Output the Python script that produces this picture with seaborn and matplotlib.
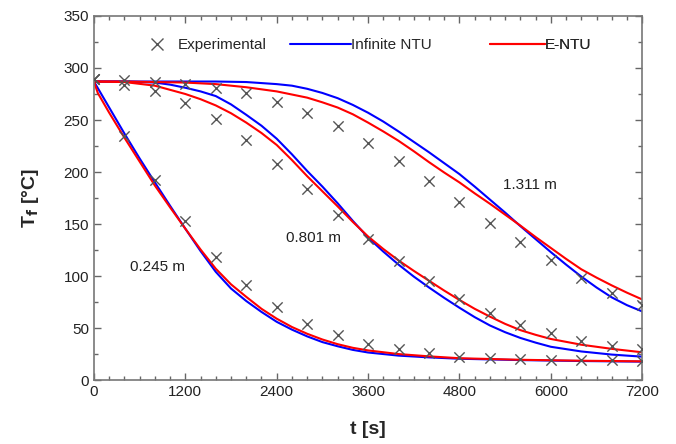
import pandas as pd
import numpy as np
import matplotlib
matplotlib.use('Agg')
import matplotlib.pyplot as plt
import seaborn as sns
from matplotlib.lines import Line2D
from matplotlib.ticker import MultipleLocator

# values
t_exp = [0, 400, 800, 1200, 1600, 2000, 2400, 2800, 3200, 3600,
         4000, 4400, 4800, 5200, 5600, 6000, 6400, 6800, 7200]
exp_0245 = [289, 235, 192, 153, 118, 91, 70, 54, 43, 35,
            30, 26, 22.5, 21, 20.5, 19.5, 19, 19, 18.5]
exp_0801 = [289, 284, 278, 266, 251, 231, 208, 184, 159, 136,
            114, 95, 78, 64, 53, 45, 38, 33, 30]
exp_1311 = [289, 288, 287, 285, 281, 276, 267, 257, 244, 228,
            211, 191, 171, 151, 133, 115, 98, 84, 72]

# Infinite NTU model
t_inf_0245 = [0, 200, 400, 600, 800, 1000, 1200, 1400, 1600, 1800, 2000, 2200,
              2400, 2600, 2800, 3000, 3200, 3400, 3600, 4000, 4400, 4800,
              5600, 6400, 7200]
inf_0245 = [287, 262, 237, 213, 190, 167.5, 145.5, 124, 104, 88, 76, 65.5,
            56, 48.5, 42, 36.5, 32.5, 29, 26.5, 23.5, 21.8, 20.5,
            19.2, 18.3, 17.7]
t_inf_0801 = [0, 400, 800, 1000, 1200, 1400, 1600, 1800, 2000, 2200, 2400,
              2600, 2800, 3000, 3200, 3400, 3600, 3800, 4000, 4200, 4400,
              4600, 4800, 5000, 5200, 5400, 5600, 5800, 6000, 6400, 6800, 7200]
inf_0801 = [287, 287, 286, 284, 281, 277.5, 273, 265, 255, 244.5, 232,
            217, 201, 186, 170, 153, 137, 123.5, 111, 99.5, 89,
            79, 69.5, 60.5, 52.5, 46, 40.5, 36, 32, 27.5, 24.5, 22.5]
t_inf_1311 = [0, 800, 1600, 2000, 2400, 2600, 2800, 3000, 3200, 3400, 3600,
              3800, 4000, 4200, 4400, 4600, 4800, 5000, 5200, 5400, 5600,
              5800, 6000, 6200, 6400, 6600, 6800, 7000, 7200]
inf_1311 = [287, 287, 287, 286.5, 284.5, 283, 280, 276, 271, 264.5, 257,
            248.5, 239, 229, 219, 208.5, 198, 186, 173.5, 161, 148,
            135.5, 123, 111, 99.5, 89, 79.5, 72, 66]

# E-NTU model
t_entu_0245 = [0, 50, 200, 400, 600, 800, 1000, 1200, 1400, 1600, 1800, 2000,
               2200, 2400, 2600, 2800, 3000, 3200, 3400, 3600, 4000, 4400,
               4800, 5600, 6400, 7200]
entu_0245 = [287, 276, 257, 233, 210, 187, 166, 145.5, 125.5, 107, 92, 80,
             68.5, 59, 51, 44.5, 39, 34.5, 31, 28.5, 25, 22.8,
             21, 19.5, 18.6, 18]
t_entu_0801 = [0, 400, 800, 1200, 1400, 1600, 1800, 2000, 2200, 2400, 2600,
               2800, 3000, 3200, 3400, 3600, 3800, 4000, 4200, 4400, 4600,
               4800, 5000, 5200, 5400, 5600, 5800, 6000, 6400, 6800, 7200]
entu_0801 = [287, 286.5, 283, 275, 270, 264, 256.5, 247.5, 237.5, 226, 211.5,
             196, 181.5, 167, 152, 138, 126, 115, 105, 95.5, 86,
             77, 68.5, 61, 54, 48, 43.5, 39.5, 34, 30, 26.7]
t_entu_1311 = [0, 400, 800, 1200, 1600, 2000, 2400, 2800, 3000, 3200, 3400,
               3600, 3800, 4000, 4200, 4400, 4600, 4800, 5000, 5200, 5400,
               5600, 5800, 6000, 6200, 6400, 6600, 6800, 7000, 7200]
entu_1311 = [287, 287, 286.5, 286, 284.5, 281.5, 277.5, 271.5, 267, 262, 255.5,
             247.5, 239, 230, 220, 209.5, 199.5, 190, 179.5, 169.5, 159,
             148.5, 137.5, 127, 116.5, 106.5, 98.5, 91, 84, 77.5]

lengths = ['0.245 m', '0.801 m', '1.311 m']
curves = [
    ('0.245 m', 'Infinite NTU', t_inf_0245, inf_0245),
    ('0.801 m', 'Infinite NTU', t_inf_0801, inf_0801),
    ('1.311 m', 'Infinite NTU', t_inf_1311, inf_1311),
    ('0.245 m', 'E-NTU', t_entu_0245, entu_0245),
    ('0.801 m', 'E-NTU', t_entu_0801, entu_0801),
    ('1.311 m', 'E-NTU', t_entu_1311, entu_1311),
]
rows = []
for L, model, ts, vs in curves:
    rows += [(L, model, t, v) for t, v in zip(ts, vs)]
model_df = pd.DataFrame(rows, columns=['length', 'model', 't', 'T'])

exp_df = pd.DataFrame({
    't': t_exp * 3,
    'T': exp_0245 + exp_0801 + exp_1311,
    'length': np.repeat(lengths, len(t_exp)),
})

sns.set_theme(style='ticks')
plt.rcParams['font.family'] = ['Liberation Sans', 'DejaVu Sans']

fig = plt.figure(figsize=(6.76, 4.44), dpi=100)
ax = fig.add_axes([0.139, 0.144, 0.811, 0.820])

sns.scatterplot(data=exp_df, x='t', y='T', marker='x', color='#555555',
                s=55, linewidth=1.0, ax=ax, legend=False, zorder=3)
sns.lineplot(data=model_df, x='t', y='T', hue='model', units='length',
             estimator=None, palette={'Infinite NTU': '#0000ff', 'E-NTU': '#ff0000'},
             linewidth=1.5, ax=ax, legend=False, zorder=2)

ax.set_xlim(0, 7200)
ax.set_ylim(0, 350)
ax.xaxis.set_major_locator(MultipleLocator(1200))
ax.xaxis.set_minor_locator(MultipleLocator(200))
ax.yaxis.set_major_locator(MultipleLocator(50))
ax.yaxis.set_minor_locator(MultipleLocator(25))
ax.tick_params(which='both', direction='in', top=True, right=True,
               color='#666666', labelsize=11, labelcolor='#222222')
ax.tick_params(which='major', length=5, width=1)
ax.tick_params(which='minor', length=3, width=1)
for sp in ax.spines.values():
    sp.set_color('#777777')
    sp.set_linewidth(1.2)

ax.set_xlabel('t [s]', fontsize=14, fontweight='bold', labelpad=16)
ax.set_ylabel(r'T$_\mathbf{f}$ [°C]', fontsize=14, fontweight='bold', labelpad=16)

ax.text(830, 109, '0.245 m', fontsize=11, ha='center', va='center', color='#222222')
ax.text(2880, 137, '0.801 m', fontsize=11, ha='center', va='center', color='#222222')
ax.text(5720, 188, '1.311 m', fontsize=11, ha='center', va='center', color='#222222')

# legend entries placed one by one, like the reference
entries = [
    (Line2D([], [], ls='none', marker='x', color='#555555', markersize=9, mew=1.0),
     'Experimental', 146, 1.5, 0.6),
    (Line2D([], [], color='#0000ff', lw=1.5), 'Infinite NTU', 290, 4.0, 0.0),
    (Line2D([], [], color='#ff0000', lw=1.5), 'E-NTU', 490, 3.6, 0.0),
]
for h, lab, xpix, hl, pad in entries:
    leg = ax.legend([h], [lab], loc='center left', frameon=False, fontsize=11,
                    bbox_to_anchor=(xpix / 676, 1 - 45 / 444),
                    bbox_transform=fig.transFigure, borderaxespad=0, borderpad=0,
                    handlelength=hl, handletextpad=pad)
    ax.add_artist(leg)

fig.savefig('out.png', dpi=100)
